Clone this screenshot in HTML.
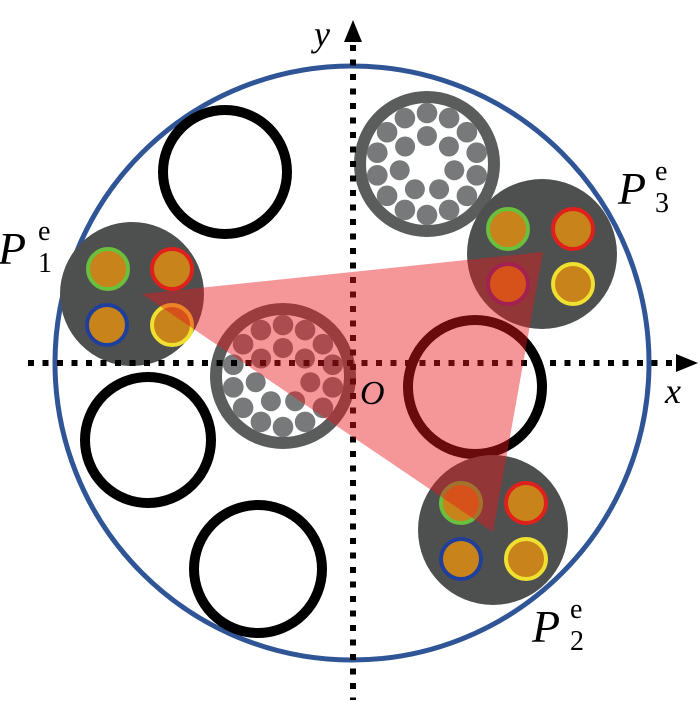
<!DOCTYPE html>
<html><head><style>html,body{margin:0;padding:0;background:#fff}svg{display:block}</style></head><body>
<svg width="700" height="701" viewBox="0 0 700 701" xmlns="http://www.w3.org/2000/svg">
<defs>
<g id="bundle">
  <circle r="67" fill="#fff" stroke="#5b5d5c" stroke-width="12"/>
  <g fill="#77797a">
    <circle cx="0" cy="-51" r="10.3"/><circle cx="22.1" cy="-45.9" r="10.3"/><circle cx="39.9" cy="-31.8" r="10.3"/><circle cx="49.7" cy="-11.3" r="10.3"/><circle cx="49.7" cy="11.3" r="10.3"/><circle cx="39.9" cy="31.8" r="10.3"/><circle cx="22.1" cy="45.9" r="10.3"/><circle cx="0" cy="51" r="10.3"/><circle cx="-22.1" cy="45.9" r="10.3"/><circle cx="-39.9" cy="31.8" r="10.3"/><circle cx="-49.7" cy="11.3" r="10.3"/><circle cx="-49.7" cy="-11.3" r="10.3"/><circle cx="-39.9" cy="-31.8" r="10.3"/><circle cx="-22.1" cy="-45.9" r="10.3"/>
    <circle cx="0" cy="-28" r="10"/><circle cx="21.9" cy="-17.5" r="10"/><circle cx="27.3" cy="6.2" r="10"/><circle cx="12.1" cy="25.2" r="10"/><circle cx="-12.1" cy="25.2" r="10"/><circle cx="-27.3" cy="6.2" r="10"/><circle cx="-21.9" cy="-17.5" r="10"/>
  </g>
</g>
</defs>
<circle cx="352" cy="363" r="297" fill="none" stroke="#2f5597" stroke-width="5"/>
<g fill="none" stroke="#000" stroke-width="10">
  <circle cx="225" cy="172" r="62"/>
  <circle cx="148" cy="440" r="63"/>
  <circle cx="258" cy="569" r="64"/>
  <circle cx="475" cy="387" r="67"/>
</g>
<use href="#bundle" x="427" y="164"/>
<use href="#bundle" x="283" y="376"/>
<g>
  <circle cx="132" cy="294" r="72" fill="#4d504f"/>
  <circle cx="108" cy="269" r="20" fill="#c8841a" stroke="#6abf3c" stroke-width="4"/>
  <circle cx="172" cy="269" r="20" fill="#c8841a" stroke="#e0201c" stroke-width="4"/>
  <circle cx="107" cy="325" r="20" fill="#c8841a" stroke="#1f3f9a" stroke-width="4"/>
  <circle cx="172" cy="325" r="20" fill="#c8841a" stroke="#f0e030" stroke-width="4"/>
</g>
<g>
  <circle cx="542" cy="254" r="75" fill="#4d504f"/>
  <circle cx="508" cy="229" r="20" fill="#c8841a" stroke="#6abf3c" stroke-width="4"/>
  <circle cx="573" cy="229" r="20" fill="#c8841a" stroke="#e0201c" stroke-width="4"/>
  <circle cx="508" cy="284" r="20" fill="#c8841a" stroke="#6b2a7a" stroke-width="4"/>
  <circle cx="573" cy="284" r="20" fill="#c8841a" stroke="#f0e030" stroke-width="4"/>
</g>
<g>
  <circle cx="493" cy="530" r="75" fill="#4d504f"/>
  <circle cx="461" cy="503" r="20" fill="#c8841a" stroke="#6abf3c" stroke-width="4"/>
  <circle cx="526" cy="503" r="20" fill="#c8841a" stroke="#e0201c" stroke-width="4"/>
  <circle cx="461" cy="559" r="20" fill="#c8841a" stroke="#1f3f9a" stroke-width="4"/>
  <circle cx="526" cy="559" r="20" fill="#c8841a" stroke="#f0e030" stroke-width="4"/>
</g>
<g stroke="#000" stroke-width="6" stroke-dasharray="6 8.5">
  <line x1="353" y1="45" x2="353" y2="700"/>
  <line x1="28" y1="363" x2="680" y2="363"/>
</g>
<polygon points="353,20 344,42 362,42" fill="#000"/>
<polygon points="698,363 676,354 676,372" fill="#000"/>
<polygon points="142,294 543,252 493,532" fill="#e8161c" fill-opacity="0.45"/>
<g font-family="'Liberation Serif',serif" font-style="italic" fill="#000">
  <text x="314" y="46" font-size="36">y</text>
  <text x="665" y="403" font-size="36">x</text>
  <text x="360" y="404" font-size="34">O</text>
  <text x="-2" y="264" font-size="46">P</text>
  <text x="532" y="642" font-size="46">P</text>
  <text x="618" y="204" font-size="46">P</text>
</g>
<g font-family="'Liberation Serif',serif" fill="#000" font-size="28">
  <text x="38" y="240">e</text><text x="38" y="272">1</text>
  <text x="570" y="618">e</text><text x="570" y="650">2</text>
  <text x="655" y="180">e</text><text x="655" y="212">3</text>
</g>
</svg>
</body></html>
